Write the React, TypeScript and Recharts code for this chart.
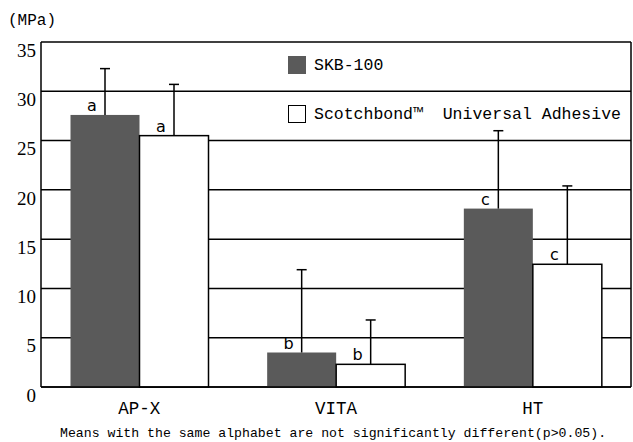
import { BarChart, Bar, XAxis, YAxis, CartesianGrid, LabelList, Legend } from 'recharts';

const categories = ['AP-X', 'VITA', 'HT'];
const skbValues = [27.6, 3.5, 18.1];
const skbErrors = [4.7, 8.4, 7.9];
const sbValues = [25.5, 2.3, 12.45];
const sbErrors = [5.2, 4.5, 7.95];
const skbLetters = ['a', 'b', 'c'];
const sbLetters = ['a', 'b', 'c'];
const yTicks = [0, 5, 10, 15, 20, 25, 30, 35];
const seriesNames = ['SKB-100', 'Scotchbond™  Universal Adhesive'];

const data = categories.map((name, i) => ({
  name,
  skb: skbValues[i],
  skbErr: skbErrors[i],
  skbLetter: skbLetters[i],
  sb: sbValues[i],
  sbErr: sbErrors[i],
  sbLetter: sbLetters[i],
}));

const MONO = '"Liberation Mono", monospace';
const SERIF = '"Liberation Serif", serif';

// bar + upward-only error whisker (px per unit taken from the bar's own scaled height)
const barWithError = (errKey: string, fill: string, stroke?: string) => (props: any) => {
  const { x, y, width, height, value, payload } = props;
  const v = Array.isArray(value) ? value[1] - value[0] : value;
  const pxPerUnit = v ? height / v : 0;
  const cx = x + width / 2;
  const top = y - payload[errKey] * pxPerUnit;
  return (
    <g>
      <rect x={x} y={y} width={width} height={height} fill={fill} stroke={stroke || 'none'} strokeWidth={1.5} />
      <line x1={cx} x2={cx} y1={y} y2={top} stroke="#000" strokeWidth={1.5} />
      <line x1={cx - 5} x2={cx + 5} y1={top} y2={top} stroke="#000" strokeWidth={1.5} />
    </g>
  );
};

const Letter = (props: any) => {
  const { x, y, value } = props;
  return (
    <text x={x + props.width / 2 - 13} y={y - 4} fontSize={16} fontFamily='"DejaVu Sans", sans-serif' fill="#000" textAnchor="middle">
      {value}
    </text>
  );
};

const LegendBox = () => (
  <div style={{ fontFamily: MONO, fontSize: 16.5, color: '#000' }}>
    <div style={{ display: 'flex', alignItems: 'center', height: 18 }}>
      <span style={{ width: 18, height: 18, background: '#5a5a5a', display: 'inline-block', marginRight: 8 }} />
      {seriesNames[0]}
    </div>
    <div style={{ display: 'flex', alignItems: 'center', height: 18, marginTop: 31, whiteSpace: 'pre' }}>
      <span style={{ width: 16, height: 16, border: '1px solid #000', background: '#fff', display: 'inline-block', marginRight: 8 }} />
      {seriesNames[1]}
    </div>
  </div>
);

const App = () => {
  return (
    <div style={{ position: 'absolute', left: 0, top: 0, width: 633, height: 442, background: '#fff' }}>
      <div style={{ position: 'absolute', left: 8, top: 12, fontFamily: MONO, fontSize: 16 }}>(MPa)</div>
      <BarChart width={633} height={442} data={data} margin={{ top: 42, right: 2, left: 0, bottom: 25 }} barCategoryGap="15%" barGap={0}>
        <CartesianGrid vertical={false} stroke="#000" strokeWidth={1.5} />
        <CartesianGrid horizontal={false} verticalPoints={[631]} stroke="#000" strokeWidth={1.5} />
        <XAxis dataKey="name" axisLine={{ stroke: '#000', strokeWidth: 1.5 }} tickLine={false} tickSize={0} tickMargin={15} height={30}
          tick={{ fill: '#000', fontSize: 17.5, fontFamily: MONO }} />
        <YAxis domain={[0, 35]} ticks={yTicks} width={41} axisLine={{ stroke: '#000', strokeWidth: 1.5 }} tickLine={false} tickSize={0} tickMargin={5}
          tick={{ fill: '#000', fontSize: 19, fontFamily: SERIF, dy: 8 }} />
        <Legend verticalAlign="middle" align="center" wrapperStyle={{ left: 288, top: 56, width: 345 }} content={<LegendBox />} />
        <Bar dataKey="skb" fill="#5a5a5a" isAnimationActive={false} shape={barWithError('skbErr', '#5a5a5a')}>
          <LabelList dataKey="skbLetter" content={<Letter />} />
        </Bar>
        <Bar dataKey="sb" fill="#fff" isAnimationActive={false} shape={barWithError('sbErr', '#fff', '#000')}>
          <LabelList dataKey="sbLetter" content={<Letter />} />
        </Bar>
      </BarChart>
      <div style={{ position: 'absolute', left: 60, top: 426, fontFamily: MONO, fontSize: 13.2, whiteSpace: 'pre' }}>
        Means with the same alphabet are not significantly different(p&gt;0.05).
      </div>
    </div>
  );
};

export default App;
